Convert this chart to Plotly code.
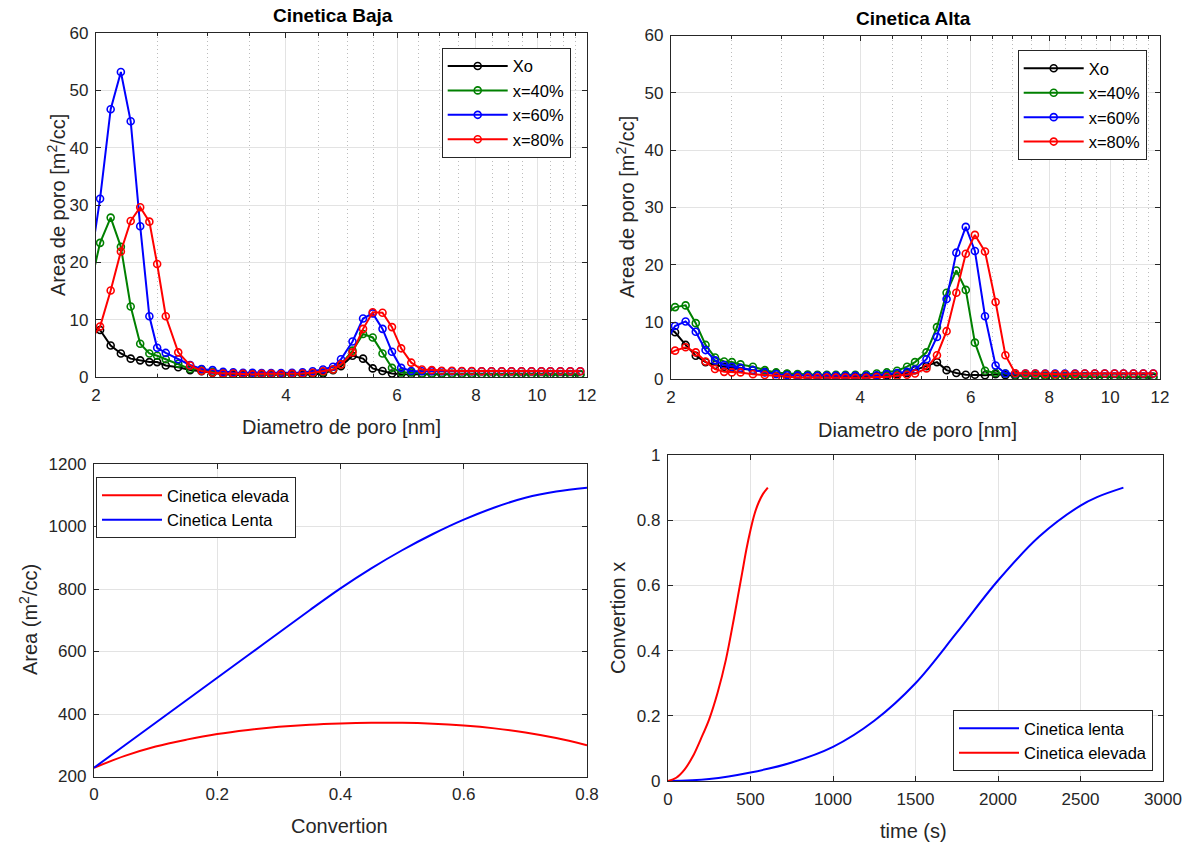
import numpy as np
import plotly.graph_objects as go

# ---------------- data ----------------
diam = [1.95, 2.03, 2.11, 2.19, 2.27, 2.35, 2.43, 2.50, 2.58, 2.70,
        2.82, 2.94, 3.06, 3.18, 3.30, 3.42, 3.54, 3.66, 3.79, 3.93,
        4.09, 4.25, 4.41, 4.58, 4.75, 4.89, 5.10, 5.30, 5.49, 5.69,
        5.89, 6.09, 6.32, 6.57, 6.81, 7.06, 7.33, 7.60, 7.88, 8.17,
        8.47, 8.79, 9.11, 9.45, 9.80, 10.16, 10.50, 10.89, 11.29, 11.71]

# Cinetica Baja
baja_xo = [7.9, 8.2, 5.5, 4.1, 3.2, 2.9, 2.6, 2.6, 2.0, 1.7,
           1.2, 1.0, 0.7, 0.5, 0.4, 0.4, 0.35, 0.35, 0.35, 0.35,
           0.35, 0.4, 0.45, 0.6, 1.2, 1.9, 3.7, 3.2, 1.5, 1.05,
           0.6, 0.5, 0.5, 0.5, 0.5, 0.5, 0.5, 0.5, 0.45, 0.45,
           0.45, 0.45, 0.45, 0.45, 0.4, 0.4, 0.4, 0.4, 0.4, 0.4]
baja_40 = [14.9, 23.4, 27.8, 22.7, 12.3, 5.8, 4.1, 3.7, 3.1, 2.3,
           1.4, 1.3, 0.9, 0.7, 0.6, 0.55, 0.5, 0.5, 0.5, 0.5,
           0.5, 0.6, 0.7, 0.9, 1.3, 2.2, 4.6, 7.5, 6.9, 4.1,
           1.6, 0.8, 0.8, 0.6, 0.6, 0.6, 0.55, 0.55, 0.55, 0.5,
           0.5, 0.5, 0.5, 0.5, 0.5, 0.5, 0.5, 0.5, 0.5, 0.5]
baja_60 = [18.3, 31.1, 46.7, 53.2, 44.6, 26.3, 10.6, 5.1, 4.2, 3.1,
           2.1, 1.4, 1.2, 0.9, 0.8, 0.75, 0.75, 0.7, 0.7, 0.7,
           0.75, 0.8, 1.0, 1.3, 1.8, 3.1, 6.2, 10.2, 11.1, 8.4,
           4.4, 1.6, 1.05, 1.0, 1.0, 1.0, 1.0, 1.0, 1.0, 1.0,
           1.0, 1.0, 1.0, 1.0, 1.0, 1.0, 1.0, 1.0, 1.0, 1.0]
baja_80 = [6.1, 8.8, 15.1, 21.9, 27.2, 29.6, 27.1, 19.7, 10.6, 4.3,
           2.0, 1.05, 0.75, 0.6, 0.6, 0.55, 0.45, 0.55, 0.55, 0.5,
           0.55, 0.6, 0.75, 1.0, 1.3, 2.2, 4.3, 8.4, 11.3, 11.2,
           8.7, 5.0, 2.5, 1.3, 1.2, 1.1, 1.1, 1.05, 1.05, 1.0,
           1.0, 1.0, 1.0, 1.0, 1.0, 1.0, 1.0, 1.0, 1.0, 1.0]

# Cinetica Alta
alta_xo = [9.5, 8.2, 6.0, 4.1, 3.0, 2.5, 2.2, 2.0, 1.9, 1.6,
           1.3, 1.1, 0.9, 0.8, 0.7, 0.7, 0.6, 0.55, 0.5, 0.5,
           0.5, 0.6, 0.7, 0.9, 1.1, 1.6, 2.3, 3.0, 1.6, 1.1,
           0.8, 0.8, 0.7, 0.9, 0.7, 0.6, 0.6, 0.55, 0.5, 0.5,
           0.5, 0.45, 0.45, 0.4, 0.4, 0.4, 0.35, 0.35, 0.3, 0.3]
alta_40 = [11.0, 12.6, 12.9, 9.8, 6.0, 3.8, 3.1, 3.0, 2.6, 2.2,
           1.6, 1.2, 1.0, 0.9, 0.85, 0.8, 0.8, 0.8, 0.8, 0.8,
           0.85, 1.0, 1.2, 1.5, 2.2, 3.0, 4.7, 9.1, 15.1, 19.0,
           15.6, 6.4, 1.5, 1.1, 1.0, 0.8, 0.7, 0.7, 0.65, 0.6,
           0.6, 0.6, 0.55, 0.55, 0.5, 0.5, 0.5, 0.5, 0.5, 0.5]
alta_60 = [6.0, 9.3, 10.1, 8.3, 5.1, 3.3, 2.5, 2.2, 2.0, 1.6,
           1.2, 0.9, 0.7, 0.65, 0.6, 0.6, 0.6, 0.6, 0.6, 0.6,
           0.6, 0.7, 0.9, 1.1, 1.3, 1.7, 3.5, 7.4, 14.0, 22.1,
           26.6, 22.4, 11.0, 2.4, 1.0, 1.0, 1.0, 1.0, 1.0, 1.0,
           1.0, 1.0, 1.0, 1.0, 1.0, 1.0, 1.0, 1.0, 1.0, 1.0]
alta_80 = [4.0, 5.0, 5.6, 4.7, 3.1, 1.8, 1.3, 1.2, 1.2, 0.9,
           0.75, 0.5, 0.35, 0.3, 0.3, 0.3, 0.3, 0.3, 0.3, 0.25,
           0.25, 0.4, 0.4, 0.6, 0.8, 1.0, 1.9, 4.2, 8.4, 15.1,
           21.9, 25.2, 22.3, 13.5, 4.2, 1.05, 1.0, 1.0, 0.95, 0.9,
           0.9, 0.95, 1.0, 1.0, 1.0, 1.0, 1.0, 1.0, 1.0, 1.0]

series_names = ["Xo", "x=40%", "x=60%", "x=80%"]
series_colors = ["#000000", "#008000", "#0000FF", "#FF0000"]

# Area vs convertion
conv = [0, 0.05, 0.1, 0.15, 0.2, 0.25, 0.3, 0.35, 0.4, 0.45,
        0.5, 0.55, 0.6, 0.65, 0.7, 0.75, 0.8]
area_elevada = [228, 266, 296, 318, 336, 349, 359, 366, 370, 372,
                372, 369, 363, 354, 341, 323, 300]
area_lenta = [228, 300, 372, 444, 516, 588, 660, 732, 802, 866,
              924, 976, 1022, 1061, 1092, 1112, 1124]

# Convertion vs time
t_lenta = [0, 250, 500, 750, 1000, 1250, 1500, 1750, 2000, 2250,
           2500, 2600, 2760]
x_lenta = [0, 0.006, 0.026, 0.057, 0.105, 0.185, 0.30, 0.455, 0.615, 0.75,
           0.845, 0.871, 0.9]
t_elevada = [0, 50, 100, 150, 200, 250, 300, 350, 400, 425, 450, 475,
             500, 525, 550, 575, 605]
x_elevada = [0, 0.01, 0.035, 0.075, 0.13, 0.19, 0.27, 0.37, 0.50, 0.57,
             0.64, 0.71, 0.77, 0.82, 0.855, 0.88, 0.9]

# ---------------- figure ----------------
W, H = 1188, 848
FONT = "Liberation Sans, Arial, sans-serif"
AX = "#262626"
GRID = "#e3e3e3"

fig = go.Figure()

def add_pore(xa, ya, data, legend):
    for name, col, vals in zip(series_names, series_colors, data):
        fig.add_trace(go.Scatter(
            x=diam, y=vals, mode="lines+markers", name=name,
            line=dict(color=col, width=2),
            marker=dict(symbol="circle-open", size=7, color=col,
                        line=dict(width=1.6, color=col)),
            xaxis=xa, yaxis=ya, legend=legend,
            cliponaxis=True))

add_pore("x", "y", [baja_xo, baja_40, baja_60, baja_80], "legend")
add_pore("x2", "y2", [alta_xo, alta_40, alta_60, alta_80], "legend2")

fig.add_trace(go.Scatter(x=conv, y=area_elevada, mode="lines", name="Cinetica elevada",
                         line=dict(color="#FF0000", width=2, shape="spline", smoothing=1.0),
                         xaxis="x3", yaxis="y3", legend="legend3"))
fig.add_trace(go.Scatter(x=conv, y=area_lenta, mode="lines", name="Cinetica Lenta",
                         line=dict(color="#0000FF", width=2, shape="spline", smoothing=1.0),
                         xaxis="x3", yaxis="y3", legend="legend3"))
fig.add_trace(go.Scatter(x=t_lenta, y=x_lenta, mode="lines", name="Cinetica lenta",
                         line=dict(color="#0000FF", width=2, shape="spline", smoothing=1.0),
                         xaxis="x4", yaxis="y4", legend="legend4"))
fig.add_trace(go.Scatter(x=t_elevada, y=x_elevada, mode="lines", name="Cinetica elevada",
                         line=dict(color="#FF0000", width=2, shape="spline", smoothing=1.0),
                         xaxis="x4", yaxis="y4", legend="legend4"))

def px_x(a, b):
    return [a / W, b / W]

def px_y(top, bottom):
    return [1 - bottom / H, 1 - top / H]

common = dict(showline=True, linecolor=AX, linewidth=1.3, mirror="ticks",
              ticks="inside", ticklen=5, tickcolor=AX, tickwidth=1,
              showgrid=True, gridcolor=GRID, gridwidth=1, zeroline=False,
              tickfont=dict(family=FONT, size=17, color=AX), automargin=False)

log_minor = dict(dtick="L0.5", tick0=0, ticks="inside", ticklen=3, tickcolor=AX,
                 showgrid=True, gridcolor="#bcbcbc", griddash="1px,3px", gridwidth=1)

fig.update_layout(
    width=W, height=H, margin=dict(l=0, r=0, t=0, b=0),
    paper_bgcolor="white", plot_bgcolor="white",
    font=dict(family=FONT, color=AX),
    xaxis=dict(domain=px_x(96, 587), anchor="y", type="log",
               range=[np.log10(2), np.log10(12)], tickmode="array",
               tickvals=[2, 4, 6, 8, 10, 12], ticktext=["2", "4", "6", "8", "10", "12"],
               minor=log_minor, ticklabelstandoff=2, **common),
    yaxis=dict(domain=px_y(33, 377), anchor="x", range=[0, 60], dtick=10,
               ticklabelstandoff=3, **common),
    xaxis2=dict(domain=px_x(671, 1160), anchor="y2", type="log",
                range=[np.log10(2), np.log10(12)], tickmode="array",
                tickvals=[2, 4, 6, 8, 10, 12], ticktext=["2", "4", "6", "8", "10", "12"],
                minor=log_minor, ticklabelstandoff=2, **common),
    yaxis2=dict(domain=px_y(35.5, 379.3), anchor="x2", range=[0, 60], dtick=10,
                ticklabelstandoff=3, **common),
    xaxis3=dict(domain=px_x(94, 587), anchor="y3", range=[0, 0.8], dtick=0.2,
                ticklabelstandoff=2, **common),
    yaxis3=dict(domain=px_y(464, 776.5), anchor="x3", range=[200, 1200], dtick=200,
                ticklabelstandoff=3, **common),
    xaxis4=dict(domain=px_x(668, 1163), anchor="y4", range=[0, 3000], dtick=500,
                ticklabelstandoff=2, **common),
    yaxis4=dict(domain=px_y(455, 781), anchor="x4", range=[0, 1], dtick=0.2,
                tickformat="~g", ticklabelstandoff=3, **common),
)

leg_common = dict(bgcolor="white", bordercolor=AX, borderwidth=1,
                  font=dict(family=FONT, size=16.5, color="#000000"),
                  itemwidth=60, tracegroupgap=0,
                  itemclick=False, itemdoubleclick=False)

fig.update_layout(
    legend=dict(x=570.7 / W, y=1 - 47.7 / H, xanchor="right", yanchor="top", **leg_common),
    legend2=dict(x=1146.7 / W, y=1 - 50 / H, xanchor="right", yanchor="top", **leg_common),
    legend3=dict(x=96 / W, y=1 - 477 / H, xanchor="left", yanchor="top", **leg_common),
    legend4=dict(x=1153 / W, y=1 - 771 / H, xanchor="right", yanchor="bottom", **leg_common),
)

def ann(text, x, y, size=20, rot=0, bold=False, color=AX):
    fig.add_annotation(text=("<b>%s</b>" % text) if bold else text,
                       x=x / W, y=1 - y / H, xref="paper", yref="paper",
                       showarrow=False, textangle=rot, xanchor="center", yanchor="middle",
                       font=dict(family=FONT, size=size, color=color))

ann("Cinetica Baja", 333, 15, size=19, bold=True, color="#000000")
ann("Cinetica Alta", 913, 18, size=19, bold=True, color="#000000")
ann("Diametro de poro [nm]", 341, 427)
ann("Diametro de poro [nm]", 917, 430)
ann("Area de poro [m<sup>2</sup>/cc]", 57, 205, rot=-90)
ann("Area de poro [m<sup>2</sup>/cc]", 625, 207, rot=-90)
ann("Convertion", 340, 826)
ann("Area (m<sup>2</sup>/cc)", 28, 620, rot=-90)
ann("time (s)", 913, 831)
ann("Convertion x", 618, 618, rot=-90)

fig.write_html("out.html", config={"displayModeBar": False},
               post_script="document.body.style.margin='0px';")
